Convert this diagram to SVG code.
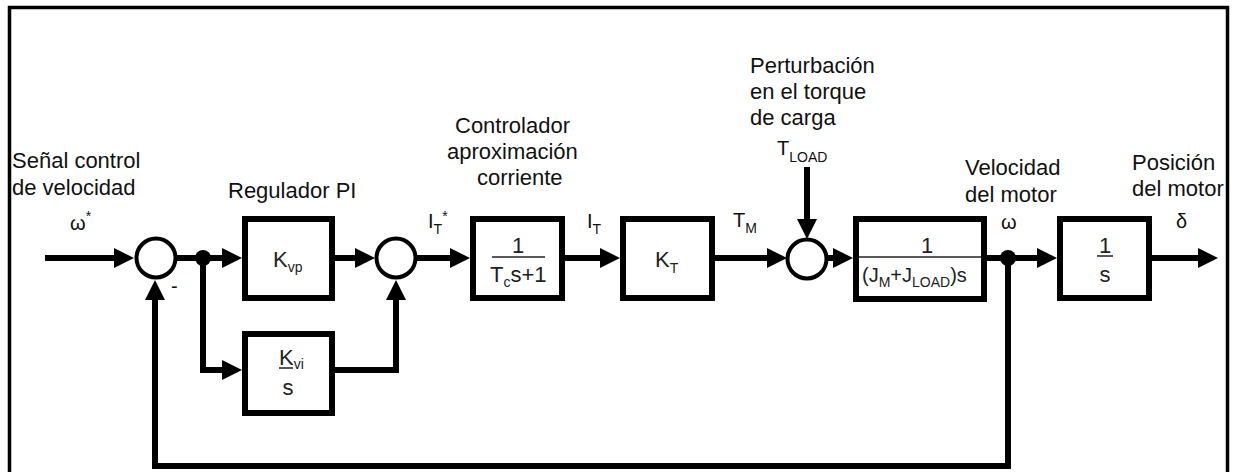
<svg xmlns="http://www.w3.org/2000/svg" width="1236" height="472" viewBox="0 0 1236 472">
<style>
  text { font-family: "Liberation Sans", Arial, sans-serif; fill: #111; }
  .lbl { font-size: 22px; }
  .sig { font-size: 20px; }
  .box-t { font-size: 22px; fill: #222; }
  .sub { font-size: 14px; }
  .box { fill: #fff; stroke: #000; stroke-width: 6; }
  .sum { fill: #fff; stroke: #000; stroke-width: 4; }
  .frac { stroke: #222; stroke-width: 1.5; }
  .wire { fill: none; stroke: #000; stroke-width: 6; stroke-linejoin: miter; }
</style>
<defs>
  <marker id="arr" markerUnits="userSpaceOnUse" markerWidth="20" markerHeight="20" refX="10" refY="10" orient="auto">
    <path d="M0,0 L20,10 L0,20 z" fill="#000"/>
  </marker>
</defs>
<rect width="1236" height="472" fill="#fff"/>

<g id="connectors">
  <path class="wire" d="M45,258 H124" marker-end="url(#arr)"/>
  <path class="wire" d="M176,258 H232" marker-end="url(#arr)"/>
  <path class="wire" d="M203,258 V370 H232" marker-end="url(#arr)"/>
  <path class="wire" d="M335,258 H365" marker-end="url(#arr)"/>
  <path class="wire" d="M335,370 H396 V290" marker-end="url(#arr)"/>
  <path class="wire" d="M416,258 H460" marker-end="url(#arr)"/>
  <path class="wire" d="M565,258 H610" marker-end="url(#arr)"/>
  <path class="wire" d="M715,258 H777" marker-end="url(#arr)"/>
  <path class="wire" d="M807,167 V229" marker-end="url(#arr)"/>
  <path class="wire" d="M827,258 H843" marker-end="url(#arr)"/>
  <path class="wire" d="M987,258 H1047" marker-end="url(#arr)"/>
  <path class="wire" d="M1152,258 H1208" marker-end="url(#arr)"/>
  <path class="wire" d="M1008,258 V466 H155 V290" marker-end="url(#arr)"/>
  <circle cx="203" cy="258" r="8" fill="#000"/>
  <circle cx="1008" cy="258" r="8" fill="#000"/>
</g>

<g id="sum1">
  <circle class="sum" cx="156" cy="258" r="19.5"/>
  <text class="sig" x="171" y="293">-</text>
</g>
<g id="sum2"><circle class="sum" cx="396" cy="258" r="19.5"/></g>
<g id="sum3"><circle class="sum" cx="807" cy="259" r="19.5"/></g>

<g id="kvp">
  <rect class="box" x="245" y="219" width="87" height="79"/>
  <text class="box-t" x="273" y="267">K<tspan class="sub" dy="5">vp</tspan></text>
</g>
<g id="kvi">
  <rect class="box" x="245" y="334" width="87" height="79"/>
  <text class="box-t" x="279" y="365">K<tspan class="sub" dy="4">vi</tspan></text>
  <line class="frac" x1="279" y1="368" x2="293" y2="368"/>
  <text class="box-t" x="288" y="395" text-anchor="middle">s</text>
</g>
<g id="current-ctrl">
  <rect class="box" x="473" y="219" width="89" height="79"/>
  <text class="box-t" x="518" y="253" text-anchor="middle">1</text>
  <line class="frac" x1="492" y1="257" x2="545" y2="257"/>
  <text class="box-t" x="490" y="282">T<tspan class="sub" dy="5">c</tspan><tspan dy="-5">s+1</tspan></text>
</g>
<g id="kt">
  <rect class="box" x="623" y="219" width="89" height="79"/>
  <text class="box-t" x="655" y="267">K<tspan class="sub" dy="6">T</tspan></text>
</g>
<g id="plant">
  <rect class="box" x="856" y="219" width="128" height="80"/>
  <text class="box-t" x="927" y="253" text-anchor="middle">1</text>
  <line class="frac" x1="859" y1="257" x2="981" y2="257"/>
  <text class="box-t" x="862" y="282" style="font-size:20px">(J<tspan class="sub" dy="5">M</tspan><tspan dy="-5">+J</tspan><tspan class="sub" dy="5">LOAD</tspan><tspan dy="-5">)s</tspan></text>
</g>
<g id="integrator">
  <rect class="box" x="1060" y="219" width="89" height="79"/>
  <text class="box-t" x="1105" y="253" text-anchor="middle">1</text>
  <line class="frac" x1="1097" y1="256" x2="1113" y2="256"/>
  <text class="box-t" x="1105" y="282" text-anchor="middle">s</text>
</g>

<g id="labels">
  <text class="lbl" x="12" y="168">Señal control</text>
  <text class="lbl" x="12" y="195">de velocidad</text>
  <text class="sig" x="70" y="230">ω<tspan class="sub" dy="-9">*</tspan></text>
  <text class="lbl" x="228" y="198">Regulador PI</text>
  <text class="lbl" x="455" y="133">Controlador</text>
  <text class="lbl" x="447" y="159">aproximación</text>
  <text class="lbl" x="477" y="185">corriente</text>
  <text class="sig" x="428" y="228">I<tspan class="sub" dy="6">T</tspan><tspan class="sub" dy="-13">*</tspan></text>
  <text class="sig" x="587" y="228">I<tspan class="sub" dy="6">T</tspan></text>
  <text class="sig" x="733" y="227">T<tspan class="sub" dy="6">M</tspan></text>
  <text class="lbl" x="750" y="73">Perturbación</text>
  <text class="lbl" x="750" y="99">en el torque</text>
  <text class="lbl" x="750" y="125">de carga</text>
  <text class="sig" x="777" y="155">T<tspan class="sub" dy="7">LOAD</tspan></text>
  <text class="lbl" x="965" y="175">Velocidad</text>
  <text class="lbl" x="965" y="202">del motor</text>
  <text class="sig" x="1001" y="229">ω</text>
  <text class="lbl" x="1132" y="170">Posición</text>
  <text class="lbl" x="1132" y="196">del motor</text>
  <text class="sig" x="1176" y="228">δ</text>
</g>

<rect x="9.5" y="7.5" width="1218" height="480" fill="none" stroke="#000" stroke-width="3.5"/>
</svg>
